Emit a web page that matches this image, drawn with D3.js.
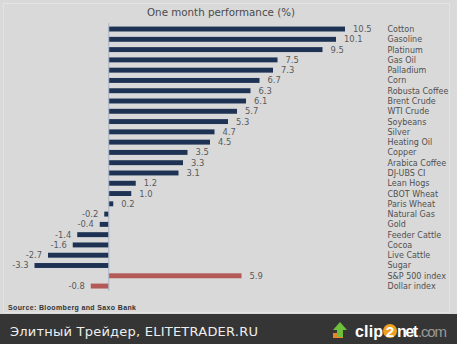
<!DOCTYPE html>
<html><head><meta charset="utf-8">
<script src="https://cdn.jsdelivr.net/npm/d3@7"></script>
<style>html,body{margin:0;padding:0;background:#d9d9d9;}svg{display:block;}</style>
</head><body>
<svg id="c" width="457" height="344"></svg>
<script>
const categories = ["Cotton","Gasoline","Platinum","Gas Oil","Palladium","Corn","Robusta Coffee","Brent Crude","WTI Crude","Soybeans","Silver","Heating Oil","Copper","Arabica Coffee","DJ-UBS CI","Lean Hogs","CBOT Wheat","Paris Wheat","Natural Gas","Gold","Feeder Cattle","Cocoa","Live Cattle","Sugar","S&P 500 index","Dollar index"];
const values = [10.5,10.1,9.5,7.5,7.3,6.7,6.3,6.1,5.7,5.3,4.7,4.5,3.5,3.3,3.1,1.2,1.0,0.2,-0.2,-0.4,-1.4,-1.6,-2.7,-3.3,5.9,-0.8];
const valueLabels = ["10.5","10.1","9.5","7.5","7.3","6.7","6.3","6.1","5.7","5.3","4.7","4.5","3.5","3.3","3.1","1.2","1.0","0.2","-0.2","-0.4","-1.4","-1.6","-2.7","-3.3","5.9","-0.8"];
const highlighted = ["S&P 500 index","Dollar index"];
const title = "One month performance (%)";
const source = "Source: Bloomberg and Saxo Bank";

const svg = d3.select("#c");
svg.append("rect").attr("x",0).attr("y",0).attr("width",457).attr("height",344).attr("fill","#d9d9d9");
svg.append("rect").attr("x",3.5).attr("y",3.5).attr("width",446).attr("height",309).attr("fill","none").attr("stroke","#e3e3e3");

const x = d3.scaleLinear().domain([-3.3,10.5]).range([34.5,345]);
const y = d3.scaleBand().domain(categories).range([23.9,291.2]).paddingInner(0.52).paddingOuter(0.26);

svg.append("text").attr("x",221).attr("y",16).attr("text-anchor","middle")
  .attr("font-family","DejaVu Sans").attr("font-size","10.3px").attr("fill","#4a4a4a").text(title);

const g = svg.append("g");
g.selectAll("rect.bar").data(categories).join("rect").attr("class","bar")
  .attr("x",(d,i)=>x(Math.min(0,values[i])))
  .attr("width",(d,i)=>Math.abs(x(values[i])-x(0)))
  .attr("y",d=>y(d)).attr("height",y.bandwidth())
  .attr("fill",d=>highlighted.includes(d)?"#b35a58":"#1e3354");

svg.append("line").attr("x1",x(0)).attr("x2",x(0)).attr("y1",23).attr("y2",291)
  .attr("stroke","#a9b6c8").attr("stroke-width",1);

g.selectAll("text.val").data(categories).join("text").attr("class","val")
  .attr("x",(d,i)=>values[i]>=0? x(values[i])+8 : x(values[i])-6)
  .attr("y",d=>y(d)+y.bandwidth()/2+3)
  .attr("text-anchor",(d,i)=>values[i]>=0?"start":"end")
  .attr("font-family","DejaVu Sans").attr("font-size","8.4px").attr("fill","#5a5a5a")
  .text((d,i)=>valueLabels[i]);

g.selectAll("text.cat").data(categories).join("text").attr("class","cat")
  .attr("x",387.5).attr("y",d=>y(d)+y.bandwidth()/2+3)
  .attr("font-family","DejaVu Sans").attr("font-size","8px").attr("fill","#505050")
  .text(d=>d);

svg.append("text").attr("x",8).attr("y",309.5).attr("font-family","Liberation Sans")
  .attr("font-weight","bold").attr("font-size","7px").attr("fill","#333").attr("textLength",128).text(source);

// banner
svg.append("rect").attr("x",0).attr("y",314).attr("width",457).attr("height",30).attr("fill","#353535");
svg.append("text").attr("x",10).attr("y",336).attr("font-family","DejaVu Sans").attr("font-size","13px")
  .attr("fill","#eeeeee").attr("textLength",248).text("Элитный Трейдер, ELITETRADER.RU");

// clip2net logo
const lg = svg.append("g");
lg.append("rect").attr("x",333).attr("y",333).attr("width",10).attr("height",5).attr("fill","#e8852a");
lg.append("path").attr("d","M340,322 L347,330 L343,330 L343,337 L337,337 L337,330 L333,330 Z").attr("fill","#6fbf3a");
lg.append("text").attr("x",355).attr("y",337).attr("font-family","Liberation Sans").attr("font-weight","bold")
  .attr("font-size","16px").attr("fill","#ffffff").attr("textLength",28).text("clip");
lg.append("circle").attr("cx",390).attr("cy",331).attr("r",7).attr("fill","#f0a020");
lg.append("text").attr("x",390).attr("y",336.5).attr("text-anchor","middle").attr("font-family","Liberation Sans").attr("font-weight","bold")
  .attr("font-size","15px").attr("fill","#ffffff").text("2");
lg.append("text").attr("x",397).attr("y",337).attr("font-family","Liberation Sans").attr("font-weight","bold")
  .attr("font-size","16px").attr("fill","#ffffff").attr("textLength",21).text("net");
lg.append("text").attr("x",418).attr("y",337).attr("font-family","Liberation Sans")
  .attr("font-size","15px").attr("fill","#9a9a9a").attr("textLength",29).text(".com");
</script>
</body></html>
